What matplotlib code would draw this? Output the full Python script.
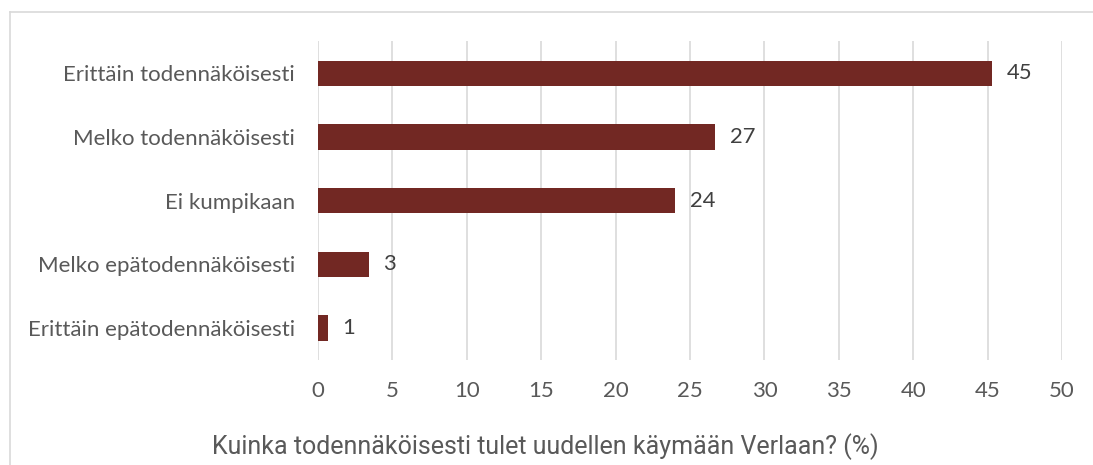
import matplotlib
matplotlib.use("Agg")
from matplotlib import pyplot as plt
from matplotlib.lines import Line2D

categories = ['Erittäin todennäköisesti', 'Melko todennäköisesti', 'Ei kumpikaan',
              'Melko epätodennäköisesti', 'Erittäin epätodennäköisesti']
values = [45.3, 26.7, 24.0, 3.4, 0.65]
labels = ['45', '27', '24', '3', '1']
ticks = [0, 5, 10, 15, 20, 25, 30, 35, 40, 45, 50]
title = 'Kuinka todennäköisesti tulet uudellen käymään Verlaan? (%)'

fig = plt.figure(figsize=(10.93, 4.65), dpi=100)
ax = fig.add_axes([0.291, 0.2262, 0.6806, 0.6846])

y = list(range(len(categories)))
ax.barh(y, values, height=0.4, color='#722823', zorder=3)
for yi, v, lab in zip(y, values, labels):
    ax.text(v + 1.0, yi, lab, va='center', ha='left', fontsize=15.8,
            family='Lato', color='#404040')

ax.set_ylim(4.5, -0.5)
ax.set_xlim(0, 50)
ax.set_xticks(ticks)
ax.set_yticks(y)
ax.set_yticklabels(categories)
ax.grid(axis='x', color='#d9d9d9', linewidth=1.2, zorder=0)
for s in ax.spines.values():
    s.set_visible(False)
ax.tick_params(axis='both', length=0, colors='#595959', labelsize=16)
ax.tick_params(axis='x', pad=15)
ax.tick_params(axis='y', pad=16.5)
for t in ax.get_xticklabels() + ax.get_yticklabels():
    t.set_family('Lato')

fig.text(0.4986, 1 - 447 / 465, title, ha='center', va='center',
         fontsize=18, family='Roboto', color='#595959')

# light frame around the chart (top and left edges visible)
fig.add_artist(Line2D([10 / 1093, 1], [1 - 12 / 465, 1 - 12 / 465],
                      transform=fig.transFigure, color='#d9d9d9', lw=1.2))
fig.add_artist(Line2D([10 / 1093, 10 / 1093], [0, 1 - 12 / 465],
                      transform=fig.transFigure, color='#d9d9d9', lw=1.2))

fig.savefig('out.png', dpi=100)
